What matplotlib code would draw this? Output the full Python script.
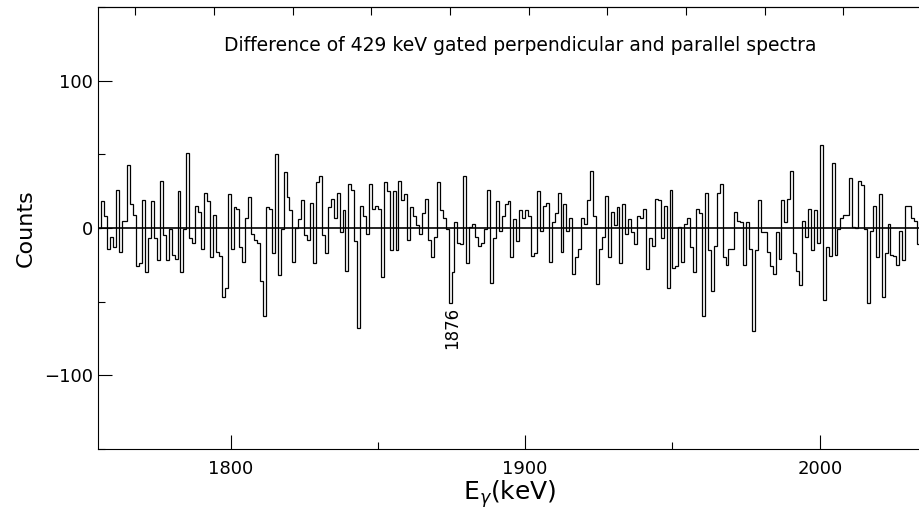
import matplotlib
matplotlib.use("Agg")
import matplotlib.pyplot as plt
import numpy as np

# 1 keV bins, first bin starts at 1755 keV
e_start = 1755
counts = [
    0, 18, 8, -14, -6, -13, 26, -16, 5, 5, 43, 16, 9, -26, -24, 19, -30, -7, 18, -7,
    -22, 32, -5, -22, -1, -18,
    -21, 25, -30, -1, 51, -7, -10, 15, 11, -14, 24, 18, -20, 9, -16, -19, -47, -41, 23, -14,
    14, 13, -13, -23, 7,
    21, -4, -8, -10, -36, -60, 14, 13, -17, 50, -32, -1, 38, 21, 12, -23, 0, 6, 19, -5,
    -8, 17, -24, 31, 35,
    -5, -17, 14, 20, 7, 24, -3, 12, -29, 30, 26, -9, -68, 15, 8, -4, 30, 13, 15, 13,
    -33, 31, 25, -15, 25, -15,
    32, 19, 23, -8, 14, 8, 2, -4, 10, 20, -8, -20, -6, 31, 12, 7, -1, -51, -30, 4,
    -10, -11, 35, -24, 1, 3,
    -6, -12, -10, -1, 26, -37, -7, 18, -2, 8, 16, 18, -20, 6, -9, 12, 7, 12, 8, -19,
    -17, 25, -2, 15, 17,
    -23, 4, 10, 24, -16, 16, -2, 7, -31, -20, -14, 7, 3, 19, 39, 8, -38, -14, -6, 22,
    -20, 11, 2, 14, -24, 16,
    -4, 6, -3, -11, 8, 7, 13, -28, -7, -12, 20, 19, -7, 15, -41, 26, -27, -26, 1, -23,
    3, 7, -13, -30, 13, 10,
    -60, 24, -15, -43, -12, 24, 30, -20, -25, -14, -14, 11, 5, 4, -25, 4, -14, -70, -15, 19,
    -3, -3, -16, -26, -31,
    -3, -21, 19, 4, 20, 39, -17, -29, -39, 5, -6, 13, -15, 12, -10, 56, -49, -13, -19, 44,
    -18, -1, 7, 9, 9,
    34, 1, 0, 32, 29, -1, -51, -2, 15, -20, 23, -47, -17, 3, -18, -19, -25, -2, -22, 15,
    15, 7, 5, -11, 34,
]

x_ticks = [1800, 1900, 2000]
y_ticks = [-100, 0, 100]
title = "Difference of 429 keV gated perpendicular and parallel spectra"
peak_label = "1876"
peak_pos = 1875.2

edges = e_start + np.arange(len(counts) + 1)

fig = plt.figure(figsize=(9.19, 5.21), dpi=100)
ax = fig.add_axes([98 / 919, 1 - 449 / 521, 1.0 - 98 / 919 + 0.002, 442 / 521])

ax.stairs(counts, edges, color="black", linewidth=0.9, baseline=None)
ax.axhline(0, color="black", linewidth=1.2)

ax.set_xlim(1755, 2034.3)
ax.set_ylim(-150, 150)

ax.set_xticks(x_ticks)
ax.set_xticks([1850, 1950], minor=True)
ax.set_yticks(y_ticks)
ax.set_yticks([-150, -50, 50, 150], minor=True)
ax.set_yticklabels(["\u2212100", "0", "100"])
ax.tick_params(which="major", direction="in", length=10, width=0.8, labelsize=13,
               top=False, right=False)
ax.tick_params(which="minor", direction="in", length=5, width=0.8, top=False, right=False)
ax.tick_params(axis="x", pad=8)
ax.spines["right"].set_visible(False)

# ticks along the top edge
top = ax.secondary_xaxis("top")
top.set_xticks(list(np.arange(1767.7, 2034, 26.7)))
top.tick_params(direction="in", length=6, width=0.8, labeltop=False)

ax.text(0.513, 0.914, title, transform=ax.transAxes, ha="center", va="center", fontsize=13.5)
ax.text(peak_pos, -68, peak_label, rotation=90, ha="center", va="center", fontsize=12)

ax.set_xlabel(r"E$_\gamma$(keV)", fontsize=18, labelpad=0)
ax.set_ylabel("Counts", fontsize=16, labelpad=6)

fig.savefig("out.png", dpi=100)
